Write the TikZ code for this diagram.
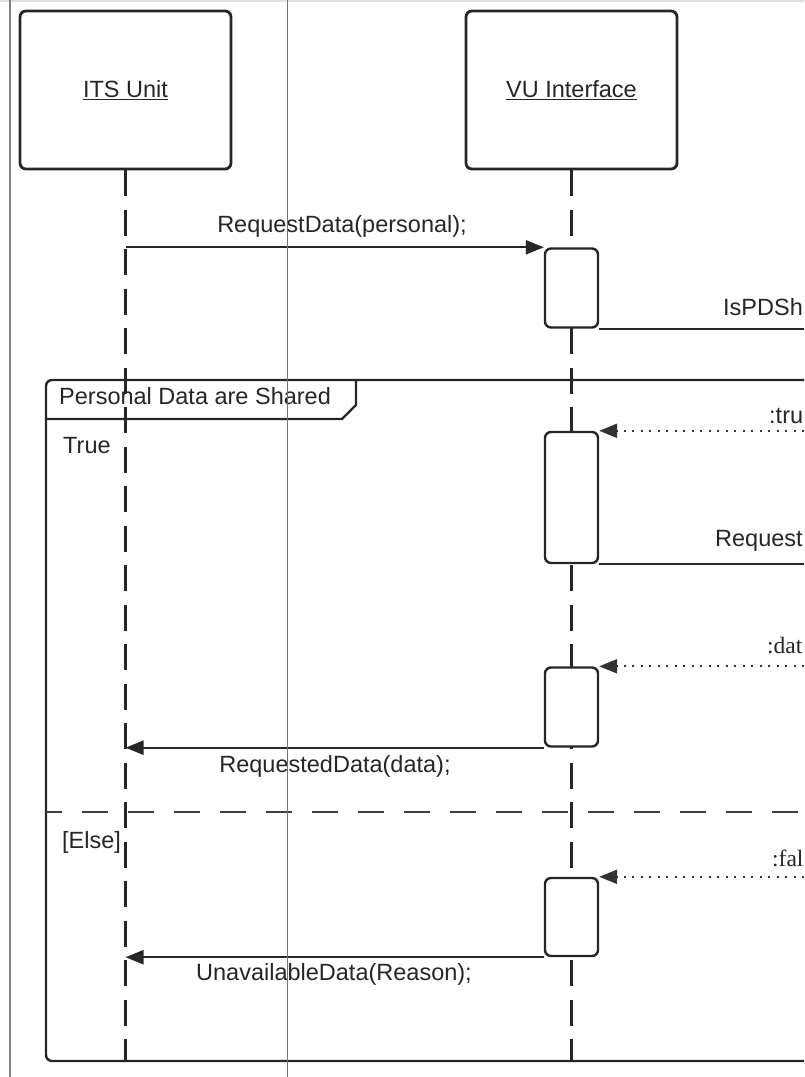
\documentclass[tikz,border=0pt]{standalone}
\usepackage{fontspec}
\setmainfont{Liberation Sans}
\newfontfamily\replyfont{Liberation Serif}
\usetikzlibrary{arrows.meta, positioning}

\begin{document}
\begin{tikzpicture}[x=1pt, y=-1pt,
    actor/.style={rectangle, draw=black!85, line width=2.8pt, rounded corners=6pt, minimum width=211pt, minimum height=158pt, fill=white, text=black!85, font=\fontsize{23.5}{28}\selectfont},
    act/.style={rectangle, draw=black!85, line width=2.4pt, rounded corners=6pt, minimum width=53pt, fill=white, inner sep=0pt},
    msg/.style={draw=black!85, line width=2.2pt, -{Triangle[length=18pt, width=14pt]}},
    reply/.style={draw=black!80, line width=2.3pt, dash pattern=on 2pt off 6.5pt, -{Triangle[length=18pt, width=14pt]}},
    life/.style={draw=black!85, line width=2.4pt, dash pattern=on 26pt off 13.5pt},
    lbl/.style={text=black!85, font=\fontsize{23.5}{28}\selectfont, inner sep=0pt}]

    \useasboundingbox (0,0) rectangle (804,1077);
    \fill[white] (0,0) rectangle (804,1077);
    \draw[black!12, line width=2pt] (0,1) -- (804,1);

    % Participants
    \node [actor] (its) at (125.5, 90) {\underline{ITS Unit}};
    \node [actor] (vu) at (571.5, 90) {\underline{VU Interface}};
    \coordinate (pd) at (804, 0);
    \coordinate (bottom) at (0, 1061);

    % Lifelines
    \draw [life] (its.south) -- (its.south |- bottom);
    \draw [life] (vu.south) -- (vu.south |- bottom);

    % Combined fragment
    \draw [draw=black!85, line width=2.4pt, rounded corners=6pt] (pd |- 0,380) -- (46,380) -- (46,1061) -- (pd |- bottom);
    \draw [draw=black!85, line width=2.4pt] (46,419) -- (342,419) -- (356,405) -- (356,380);
    \node [lbl, anchor=west] (frame) at (59, 396) {Personal Data are Shared};
    \node [lbl, anchor=west] (guard1) at (63, 446) {True};
    \draw [draw=black!75, line width=2.4pt, dash pattern=on 26pt off 20pt, dash phase=10pt] (46,812) -- (pd |- 0,812);
    \node [lbl, anchor=west] (guard2) at (62, 842) {[Else]};

    % Activations
    \node [act, minimum height=79pt] (act1) at (571.5, 288) {};
    \node [act, minimum height=131pt] (act2) at (571.5, 497.5) {};
    \node [act, minimum height=79pt] (act3) at (571.5, 707) {};
    \node [act, minimum height=78pt] (act4) at (571.5, 917) {};

    % Messages
    \draw [msg] (its.south |- act1.north west) -- (act1.north west);
    \node [lbl] (m1) at (342, 226) {RequestData(personal);};

    \draw [draw=black!85, line width=2.2pt] (act1.south east) -- (pd |- act1.south east);
    \node [lbl, anchor=west] (m2) at (723, 307) {IsPDSh};

    \draw [reply] (pd |- act2.north east) -- (act2.north east);
    \node [lbl, anchor=west] (r1) at (769, 416) {:tru};

    \draw [draw=black!85, line width=2.2pt] (act2.south east) -- (pd |- act2.south east);
    \node [lbl, anchor=west] (m3) at (715, 541) {Request};

    \draw [reply] (pd |- act3.north east) -- (act3.north east);
    \node [lbl, anchor=west, font=\replyfont\fontsize{23.5}{28}\selectfont] (r2) at (767, 646) {:dat};

    \draw [msg] (act3.south west) -- (its.south |- act3.south west);
    \node [lbl] (m4) at (335, 766) {RequestedData(data);};

    \draw [reply] (pd |- act4.north east) -- (act4.north east);
    \node [lbl, anchor=west, font=\replyfont\fontsize{23.5}{28}\selectfont] (r3) at (772, 858) {:fal};

    \draw [msg] (act4.south west) -- (its.south |- act4.south west);
    \node [lbl] (m5) at (334, 974) {UnavailableData(Reason);};

    % Scan edges
    \draw [black!50, line width=1.2pt] (10,0) -- (10,1077);
    \draw [black!55, line width=1pt] (287,0) -- (287,1077);
\end{tikzpicture}
\end{document}
